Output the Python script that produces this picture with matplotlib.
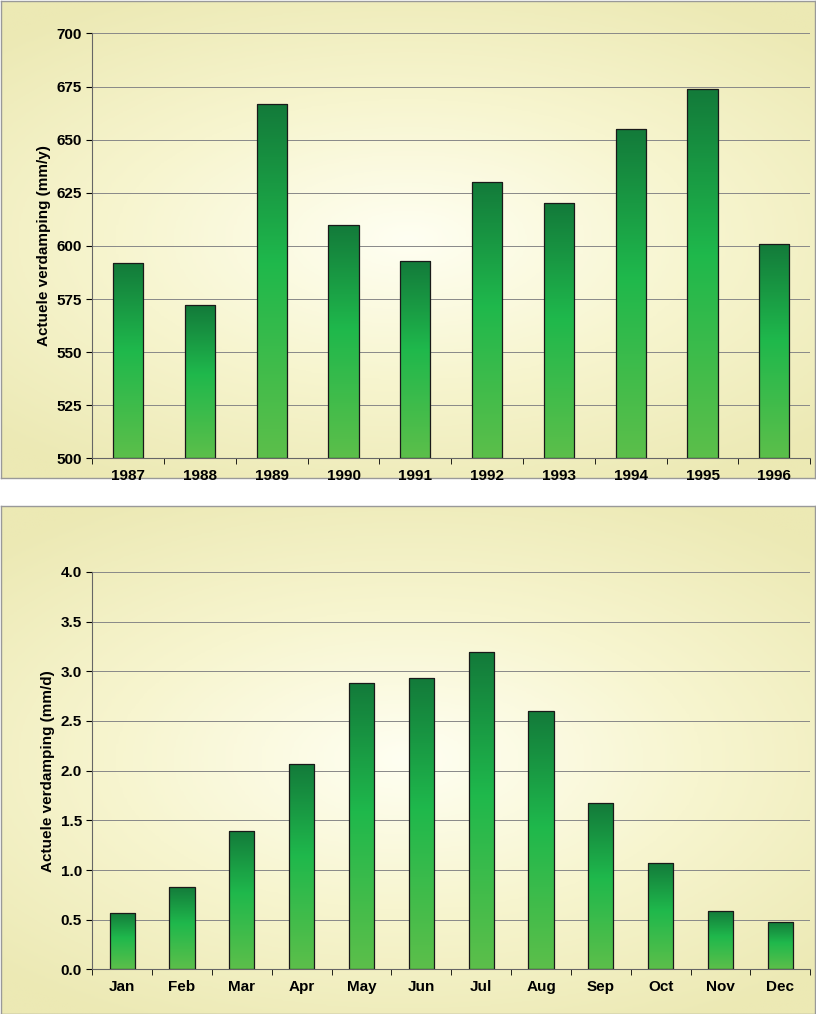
import numpy as np
import matplotlib
matplotlib.use("Agg")
import matplotlib.pyplot as plt
from matplotlib.colors import LinearSegmentedColormap
from matplotlib.patches import Rectangle

years = ["1987","1988","1989","1990","1991","1992","1993","1994","1995","1996"]
yearly = [592, 572, 667, 610, 593, 630, 620, 655, 674, 601]
months = ["Jan","Feb","Mar","Apr","May","Jun","Jul","Aug","Sep","Oct","Nov","Dec"]
monthly = [0.57, 0.83, 1.39, 2.07, 2.88, 2.93, 3.19, 2.60, 1.67, 1.07, 0.59, 0.48]

plt.rcParams['font.family'] = ['Liberation Sans', 'DejaVu Sans']
fig = plt.figure(figsize=(8.16, 10.14), dpi=100)

barcmap = LinearSegmentedColormap.from_list("g", [(0, "#5cbf4a"), (0.55, "#1fb84c"), (1, "#137a3a")])
bgcmap = LinearSegmentedColormap.from_list("bg", ["#fffff2", "#f7f5cf", "#ece9b4"])

def panel(frame_rect, ax_rect, cats, vals, ymin, ymax, step, fmt, ylabel):
    fr = fig.add_axes(frame_rect)
    fr.set_xticks([]); fr.set_yticks([])
    yy, xx = np.mgrid[-1:1:200j, -1:1:200j]
    r = np.sqrt((xx * 0.9) ** 2 + (yy * 1.1) ** 2)
    fr.imshow(r, cmap=bgcmap, extent=[0, 1, 0, 1], aspect='auto', vmin=0, vmax=1.3)
    fr.set_xlim(0, 1); fr.set_ylim(0, 1)
    for s in fr.spines.values():
        s.set_color("#999999"); s.set_linewidth(1)
    ax = fig.add_axes(ax_rect)
    ax.patch.set_alpha(0)
    n = len(cats)
    ticks = np.arange(ymin, ymax + step / 2, step)
    ax.set_yticks(ticks)
    ax.set_yticklabels([fmt.format(t) for t in ticks], fontsize=11, fontweight='bold')
    ax.set_xticks(np.arange(n) + 0.5)
    ax.set_xticklabels(cats, fontsize=11, fontweight='bold')
    ax.set_xticks(np.arange(n + 1), minor=True)
    ax.tick_params(axis='x', which='major', length=0, pad=8)
    ax.tick_params(axis='x', which='minor', length=4)
    ax.tick_params(axis='y', length=4)
    for t in ticks:
        ax.axhline(t, color="#888888", lw=0.7, zorder=1)
    for s in ["top", "right"]:
        ax.spines[s].set_visible(False)
    ax.spines['left'].set_color("#666666"); ax.spines['bottom'].set_color("#666666")
    ax.set_ylabel(ylabel, fontsize=11, fontweight='bold')
    grad = np.linspace(0, 1, 256).reshape(-1, 1)
    w = 0.42
    for i, v in enumerate(vals):
        x0 = i + 0.5 - w / 2
        im = ax.imshow(grad, cmap=barcmap, origin='lower', extent=[x0, x0 + w, ymin, v],
                       aspect='auto', zorder=2)
        rect = Rectangle((x0, ymin), w, v - ymin, facecolor='none', edgecolor='#1a1a1a', lw=0.9, zorder=3)
        ax.add_patch(rect)
        im.set_clip_path(rect)
    ax.set_xlim(0, n); ax.set_ylim(ymin, ymax)

panel([0.001, 0.529, 0.998, 0.47], [0.113, 0.548, 0.88, 0.419],
      years, yearly, 500, 700, 25, "{:.0f}", "Actuele verdamping (mm/y)")
panel([0.001, 0.0, 0.998, 0.501], [0.113, 0.044, 0.88, 0.392],
      months, monthly, 0.0, 4.0, 0.5, "{:.1f}", "Actuele verdamping (mm/d)")
fig.savefig("out.png", dpi=100)
